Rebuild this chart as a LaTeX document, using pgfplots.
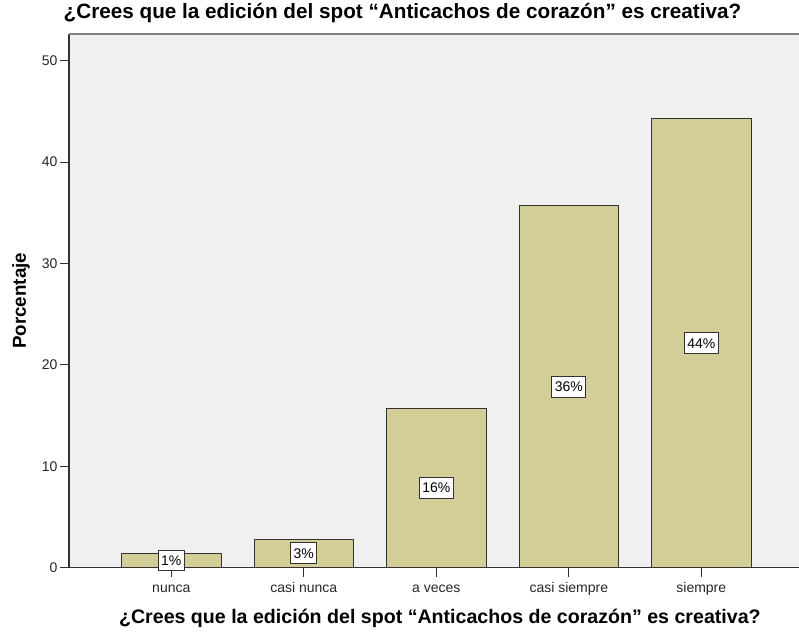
\documentclass[border=0pt]{standalone}
\usepackage{pgfplots}
\pgfplotsset{compat=1.18}
\usepackage{fontspec}
\setmainfont{Liberation Sans}
\definecolor{barfill}{RGB}{211,206,151}
\definecolor{bgc}{RGB}{240,240,240}
\definecolor{edge}{RGB}{50,50,50}
\begin{document}
\begin{tikzpicture}[x=1pt,y=1pt]
\useasboundingbox (-69,-64.3) rectangle (730,567.7);
\begin{axis}[
  at={(0,0)}, anchor=south west,
  scale only axis, width=733pt, height=533.7pt,
  xmin=-0.772, xmax=4.76, ymin=0, ymax=52.63,
  axis lines*=left,
  axis line style={edge, line width=1.2pt, -},
  axis background/.style={fill=bgc},
  xtick={0,1,2,3,4},
  xticklabels={nunca, casi nunca, a veces, casi siempre, siempre},
  ytick={0,10,20,30,40,50},
  xtick pos=left, ytick pos=left,
  tick align=outside,
  major tick length=9pt,
  tick style={edge, line width=1pt},
  tick label style={font=\fontsize{14}{16}\selectfont, color=black!85},
  /pgf/number format/assume math mode=true,
  xticklabel style={yshift=-2pt, text height=10pt, text depth=3pt},
  yticklabel style={xshift=1pt},
  xlabel={¿Crees que la edición del spot “Anticachos de corazón” es creativa?},
  xlabel style={at={(axis description cs:0.506,-0.1036)}, anchor=base, font=\fontsize{19.6}{22}\selectfont\bfseries},
  ylabel={Porcentaje},
  ylabel style={at={(axis description cs:-0.0655,0.5)}, anchor=center, rotate=0, font=\fontsize{18.8}{22}\selectfont\bfseries},
  title={¿Crees que la edición del spot “Anticachos de corazón” es creativa?},
  title style={at={(axis description cs:0.455,1.0187)}, anchor=base, font=\fontsize{20.7}{24}\selectfont\bfseries},
  clip=false,
]
\addplot[ybar, bar width=0.751, fill=barfill, draw=edge, line width=1pt]
  table[x=x, y=y] {
x y lab
0 1.42 1\%
1 2.83 3\%
2 15.72 16\%
3 35.70 36\%
4 44.25 44\%
};
\addplot[only marks, mark=none, nodes near coords, point meta=explicit symbolic,
  every node near coord/.style={anchor=center, fill=white, draw=edge, line width=1pt,
    inner xsep=3pt, inner ysep=5.5pt, font=\fontsize{14}{16}\selectfont, text=black}]
  table[x=x, y expr=\thisrow{y}/2, meta=lab] {
x y lab
0 1.42 1\%
1 2.83 3\%
2 15.72 16\%
3 35.70 36\%
4 44.25 44\%
};
\draw[black!50, line width=2pt] (rel axis cs:0,1) -- (rel axis cs:1,1);
\end{axis}
\end{tikzpicture}
\end{document}
